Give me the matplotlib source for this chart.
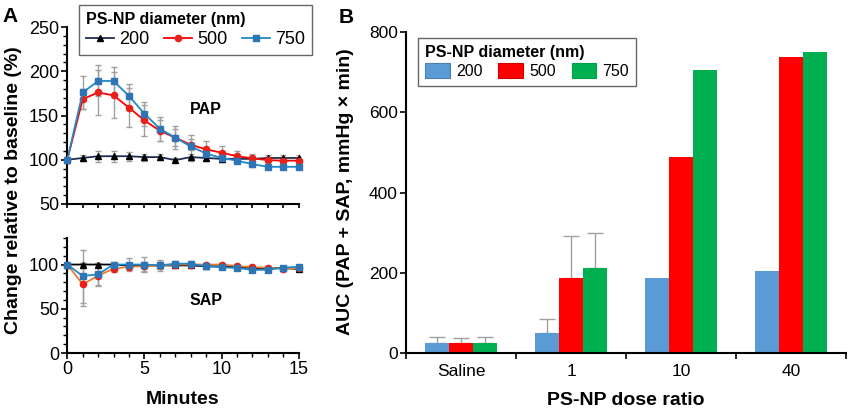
import numpy as np
import matplotlib
matplotlib.use("Agg")
import matplotlib.pyplot as plt
from matplotlib.lines import Line2D
from matplotlib.patches import Patch
from matplotlib.ticker import MultipleLocator

plt.rcParams['font.family'] = ['Liberation Sans', 'DejaVu Sans']

# ---- panel A data (percent of baseline) ----
minutes = list(range(16))
sizes = ['200', '500', '750']

pap_200 = [100, 102, 104, 104, 104, 103, 103, 99.6, 103, 102, 101, 101, 101, 102, 102, 102]
pap_500 = [100, 168.5, 176, 172.7, 158.8, 144.4, 132.8, 125, 117, 111.7, 108, 104, 101.5, 99.6, 99, 99]
pap_750 = [100, 176, 189, 189, 172, 152, 135, 125, 115, 107, 102, 99, 95, 92, 92, 92]
pap_200_err = [0, 3, 6, 6, 5, 4, 3, 2, 4, 3, 3, 3, 3, 3, 3, 3]
pap_500_err = [0, 11, 25, 26, 22, 17, 12, 10, 6, 9, 8, 6, 5, 4, 3, 3]
pap_750_err = [0, 19, 17.5, 16, 14, 13.5, 13.6, 13, 13, 4, 3, 3, 3, 3, 3, 3]

sap_200 = [100, 100, 100, 100, 99, 99, 99, 99, 99, 98, 98, 97, 96, 96, 96, 95]
sap_500 = [100, 77.6, 87.4, 95.3, 97.5, 98, 99, 100, 100, 100, 100, 98.3, 97, 96.4, 95.3, 96]
sap_750 = [100, 87, 89, 100, 100, 100, 99, 101, 101, 98, 97, 96, 94, 94, 96.5, 97.5]
sap_200_err = [0, 2, 2, 2, 2, 2, 2, 2, 2, 2, 2, 2, 2, 2, 2, 2]
sap_500_err = [0, 24, 10, 4, 4, 5, 4, 3, 3, 2, 2, 2, 2, 2, 2, 2]
sap_750_err = [0, 30, 13, 3, 7, 8, 6, 3, 3, 2, 2, 2, 2, 2, 2, 2]

# ---- panel B data (AUC) ----
doses = ['Saline', '1', '10', '40']
auc_200 = [26, 49, 187, 204]
auc_500 = [26, 188, 490, 739]
auc_750 = [26, 212, 706, 750]
auc_200_err = [13, 35, 0, 0]
auc_500_err = [11, 105, 0, 0]
auc_750_err = [13, 87, 0, 0]

W, H = 856, 416
fig = plt.figure(figsize=(W / 100, H / 100), dpi=100)


def fbox(x0, y0, x1, y1):
    # pixel box (top-left origin) -> figure fraction rect
    return [x0 / W, 1 - y1 / H, (x1 - x0) / W, (y1 - y0) / H]


ax_pap = fig.add_axes(fbox(67.3, 27, 298.7, 204))
ax_sap = fig.add_axes(fbox(67.3, 238, 298.7, 353))
ax_b = fig.add_axes(fbox(406, 32.3, 846, 353))

grey = '#a0a0a0'
styles_pap = [
    ('#1f2d4f', '^', 'black'),
    ('#ff0000', 'o', '#e8201a'),
    ('#1f8ac8', 's', '#2e75b6'),
]
styles_sap = [
    ('black', '^', 'black'),
    ('#f07c2a', 'o', '#e8201a'),
    ('#1f8ac8', 's', '#2e75b6'),
]

pap_series = [(pap_200, pap_200_err), (pap_500, pap_500_err), (pap_750, pap_750_err)]
sap_series = [(sap_200, sap_200_err), (sap_500, sap_500_err), (sap_750, sap_750_err)]

for ax, series, styles in [(ax_pap, pap_series, styles_pap), (ax_sap, sap_series, styles_sap)]:
    for (vals, err), (lc, mk, mc) in zip(series, styles):
        ax.errorbar(minutes, vals, yerr=err, fmt='none', ecolor=grey, elinewidth=1,
                    capsize=2, capthick=1, zorder=1)
    for (vals, err), (lc, mk, mc) in zip(series, styles):
        ax.plot(minutes, vals, color=lc, lw=1.3, marker=mk, markersize=4.5,
                markerfacecolor=mc, markeredgecolor=mc, zorder=3, clip_on=False)

for ax in (ax_pap, ax_sap):
    ax.spines['top'].set_visible(False)
    ax.spines['right'].set_visible(False)
    ax.spines['left'].set_linewidth(1.5)
    ax.spines['bottom'].set_linewidth(1.5)
    ax.set_xlim(0, 15)
    ax.yaxis.set_minor_locator(MultipleLocator(10))
    ax.tick_params(axis='both', which='major', direction='out', length=4, width=1.2,
                   labelsize=13, pad=2)
    ax.tick_params(axis='both', which='minor', direction='out', length=3, width=1.0)

ax_pap.set_ylim(50, 250)
ax_pap.yaxis.set_major_locator(MultipleLocator(50))
ax_pap.xaxis.set_major_locator(MultipleLocator(1))
ax_pap.tick_params(axis='x', labelbottom=False, length=3)

ax_sap.set_ylim(0, 130)
ax_sap.set_yticks([0, 50, 100])
ax_sap.xaxis.set_major_locator(MultipleLocator(5))
ax_sap.xaxis.set_minor_locator(MultipleLocator(1))
ax_sap.set_xlabel('Minutes', fontsize=14, fontweight='bold', labelpad=9)

ax_pap.text(9, 157, 'PAP', fontsize=11.5, fontweight='bold', ha='center', va='center')
ax_sap.text(9, 59, 'SAP', fontsize=11.5, fontweight='bold', ha='center', va='center')

fig.text(14 / W, 1 - 190 / H, 'Change relative to baseline (%)', rotation=90,
         fontsize=14, fontweight='bold', ha='center', va='center')

handles_a = [Line2D([], [], color=lc, marker=mk, markerfacecolor=mc, markeredgecolor=mc,
                    lw=1.3, markersize=4.5) for lc, mk, mc in styles_pap]
leg_a = ax_pap.legend(handles_a, sizes, title='PS-NP diameter (nm)', ncol=3,
                      loc='upper left', bbox_to_anchor=(79 / W, 1 - 5 / H),
                      bbox_transform=fig.transFigure, borderaxespad=0,
                      frameon=True, fancybox=False,
                      edgecolor='#404040', fontsize=13, handlelength=1.55,
                      handletextpad=0.25, columnspacing=0.85, borderpad=0.4,
                      labelspacing=0.2, alignment='left',
                      title_fontproperties={'weight': 'bold', 'size': 11.5})
leg_a.get_frame().set_linewidth(1.0)

# ---- panel B ----
x = np.arange(len(doses))
bw = 0.22
bar_colors = ['#5b9bd5', '#ff0000', '#00b050']
bar_edges = ['#4a7fb0', '#d00000', '#00a048']
for i, (vals, err) in enumerate([(auc_200, auc_200_err), (auc_500, auc_500_err),
                                 (auc_750, auc_750_err)]):
    xs = x + (i - 1) * bw
    ax_b.bar(xs, vals, width=bw, color=bar_colors[i], edgecolor='none', zorder=2)
    keep = [k for k in range(len(err)) if err[k] > 0]
    ax_b.errorbar(xs[keep], [vals[k] for k in keep],
                  yerr=[[0] * len(keep), [err[k] for k in keep]],
                  fmt='none', ecolor=grey, elinewidth=1, capsize=6, capthick=1, zorder=1)

ax_b.set_xlim(-0.5, len(doses) - 0.5)
ax_b.set_ylim(0, 800)
ax_b.set_yticks([0, 200, 400, 600, 800])
ax_b.set_xticks(x)
ax_b.set_xticklabels(doses)
ax_b.set_xticks(np.arange(len(doses) + 1) - 0.5, minor=True)
ax_b.tick_params(axis='x', which='major', length=0, labelsize=12.5, pad=8)
ax_b.tick_params(axis='x', which='minor', direction='out', length=4, width=1.2)
ax_b.tick_params(axis='y', which='major', direction='out', length=4, width=1.2,
                 labelsize=12.5, pad=2)
ax_b.spines['top'].set_visible(False)
ax_b.spines['right'].set_visible(False)
ax_b.spines['left'].set_linewidth(1.5)
ax_b.spines['bottom'].set_linewidth(1.5)
ax_b.set_xlabel('PS-NP dose ratio', fontsize=14, fontweight='bold', labelpad=9)
fig.text(346 / W, 1 - 192 / H, 'AUC (PAP + SAP, mmHg \u00d7 min)', rotation=90,
         fontsize=14, fontweight='bold', ha='center', va='center')

handles_b = [Patch(facecolor=c, edgecolor=e, linewidth=0.8) for c, e in zip(bar_colors, bar_edges)]
leg_b = ax_b.legend(handles_b, sizes, title='PS-NP diameter (nm)', ncol=3,
                    loc='upper left', bbox_to_anchor=(418 / W, 1 - 38 / H),
                    bbox_transform=fig.transFigure, borderaxespad=0,
                    frameon=True, fancybox=False,
                    edgecolor='#404040', fontsize=11.5, handlelength=1.55,
                    handleheight=1.0, handletextpad=0.37, columnspacing=1.0,
                    borderpad=0.45, labelspacing=0.2, alignment='left',
                    title_fontproperties={'weight': 'bold', 'size': 11.5})
leg_b.get_frame().set_linewidth(1.0)

fig.text(2 / W, 1 - 7 / H, 'A', fontsize=15, fontweight='bold', ha='left', va='top')
fig.text(339 / W, 1 - 8 / H, 'B', fontsize=15, fontweight='bold', ha='left', va='top')

fig.savefig('out.png', dpi=100)
